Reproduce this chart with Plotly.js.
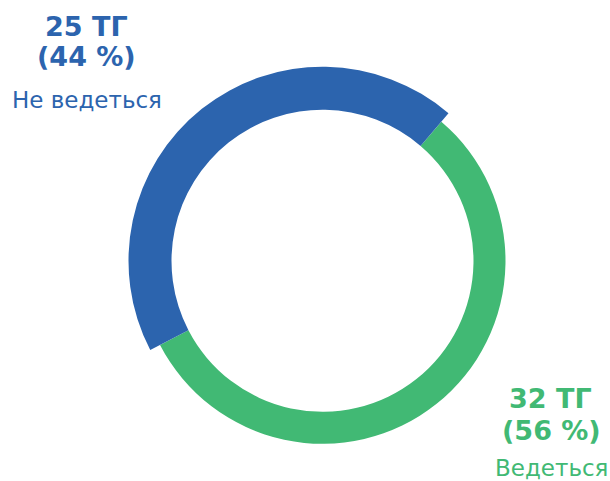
<!DOCTYPE html>
<html><head><meta charset="utf-8">
<script src="https://cdn.plot.ly/plotly-3.0.1.min.js"></script>
<style>html,body{margin:0;padding:0;background:#fff;}#chart{width:610px;height:481px;}</style>
</head><body><div id="chart"></div>
<script>
const labels = ['Ведеться', 'Не ведеться'];
const values = [32, 25];
const unit = 'ТГ';
const colors = ['#41b974', '#2c64ae'];

const total = values.reduce((a, b) => a + b, 0);
const pct = values.map(v => Math.round(v / total * 100));

const W = 610, H = 481, cx = 322.5, cy = 260.8;
function dom(r) {
  return {x: [(cx - r) / W, (cx + r) / W], y: [1 - (cy + r) / H, 1 - (cy - r) / H]};
}
const innerR = 151;
const greenR = 183, blueR = 194;

const common = {type: 'pie', labels: labels, values: values, sort: false, direction: 'clockwise',
  rotation: 40.5, textinfo: 'none', hoverinfo: 'none', showlegend: false, marker: {line: {width: 0}}};

const traces = [
  Object.assign({}, common, {domain: dom(greenR), hole: innerR / greenR,
    marker: {colors: [colors[0], 'rgba(0,0,0,0)'], line: {width: 0}}}),
  Object.assign({}, common, {domain: dom(blueR), hole: innerR / blueR,
    marker: {colors: ['rgba(0,0,0,0)', colors[1]], line: {width: 0}}})
];

const bold = {family: 'DejaVu Sans', size: 27, weight: 'bold'};
const norm = {family: 'DejaVu Sans', size: 23};
function ann(text, x, y, font, color) {
  return {text: text, x: x / W, y: 1 - y / H, xref: 'paper', yref: 'paper', xanchor: 'center', yanchor: 'middle',
    showarrow: false, font: Object.assign({}, font, {color: color})};
}
const annotations = [
  ann('<b>' + values[1] + ' ' + unit + '</b>', 86, 26, bold, colors[1]),
  ann('<b>(' + pct[1] + ' %)</b>', 86, 57, bold, colors[1]),
  ann(labels[1], 87, 100, norm, colors[1]),
  ann('<b>' + values[0] + ' ' + unit + '</b>', 550, 398, bold, colors[0]),
  ann('<b>(' + pct[0] + ' %)</b>', 551, 430, bold, colors[0]),
  ann(labels[0], 551, 468, norm, colors[0])
];

Plotly.newPlot('chart', traces, {
  width: W, height: H, margin: {l: 0, r: 0, t: 0, b: 0},
  paper_bgcolor: '#fff', plot_bgcolor: '#fff', annotations: annotations
}, {displayModeBar: false, staticPlot: true});
</script></body></html>
